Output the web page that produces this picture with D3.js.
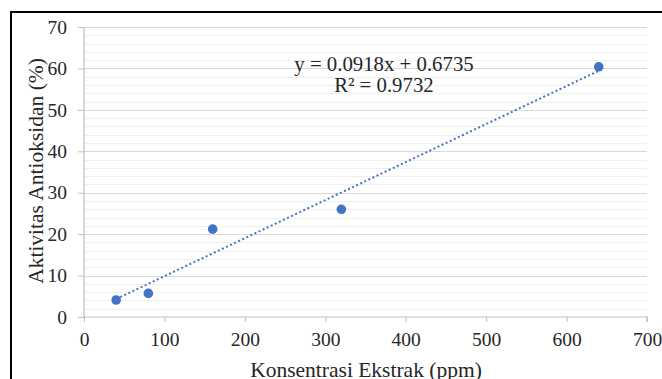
<!DOCTYPE html>
<html lang="en">
  <head>
    <meta charset="utf-8">
    <title>Aktivitas Antioksidan</title>
    <script src="https://d3js.org/d3.v7.min.js"></script>
    <style>
      body { margin: 0; background: #fff; }
      svg text { font-family: "Liberation Serif", "Times New Roman", Times, "DejaVu Serif", serif; fill: #262626; }
    </style>
  </head>
  <body>
    <div id="chart"></div>
    <script>
      // data
      var konsentrasi = [40, 80, 160, 320, 640];
      var aktivitas = [4.1, 5.7, 21.2, 26.0, 60.4];
      var xTicks = [0, 100, 200, 300, 400, 500, 600, 700];
      var yTicks = [0, 10, 20, 30, 40, 50, 60, 70];
      var slope = 0.0918, intercept = 0.6735;
      var eqText = "y = 0.0918x + 0.6735";
      var r2Text = "R² = 0.9732";

      var serif = '"Liberation Serif", "Times New Roman", Times, "DejaVu Serif", serif';

      var svg = d3.select('#chart')
        .append('svg')
        .attr('width', 662)
        .attr('height', 379)
        .attr('font-family', serif);

      // outer frame
      svg.append('rect')
        .attr('x', 11).attr('y', 12)
        .attr('width', 700).attr('height', 420)
        .attr('fill', 'none')
        .attr('stroke', '#000')
        .attr('stroke-width', 2);

      var xScale = d3.scaleLinear().domain([0, 700]).range([84, 647]);
      var yScale = d3.scaleLinear().domain([0, 70]).range([317, 27]);

      // minor gridlines every 2
      var minor = d3.range(0, 71, 2).filter(d => d % 10 !== 0);
      svg.append('g').selectAll('line')
        .data(minor).enter().append('line')
        .attr('x1', xScale(0)).attr('x2', xScale(700))
        .attr('y1', d => Math.round(yScale(d)) + 0.5)
        .attr('y2', d => Math.round(yScale(d)) + 0.5)
        .attr('stroke', '#efefef');

      // major gridlines
      svg.append('g').selectAll('line')
        .data(yTicks.slice(1)).enter().append('line')
        .attr('x1', xScale(0)).attr('x2', xScale(700))
        .attr('y1', d => Math.round(yScale(d)) + 0.5)
        .attr('y2', d => Math.round(yScale(d)) + 0.5)
        .attr('stroke', '#d9d9d9');

      // y axis
      var yAxis = d3.axisLeft(yScale).tickValues(yTicks).tickSize(6).tickPadding(11);
      var gy = svg.append('g')
        .attr('transform', 'translate(' + xScale(0) + ',0)')
        .call(yAxis);

      // x axis
      var xAxis = d3.axisBottom(xScale).tickValues(xTicks).tickSize(5).tickPadding(10);
      var gx = svg.append('g')
        .attr('transform', 'translate(0,' + yScale(0) + ')')
        .call(xAxis);

      [gx, gy].forEach(function (g) {
        g.attr('font-family', serif).attr('font-size', 19.5);
        g.select('.domain').attr('stroke', '#bfbfbf').attr('stroke-width', 1.2);
        g.selectAll('.tick line').attr('stroke', '#bfbfbf');
        g.selectAll('.tick text').attr('fill', '#262626');
      });
      gy.select('.domain').attr('d', 'M0,' + yScale(0) + 'V' + yScale(70));
      gx.select('.domain').attr('d', 'M' + xScale(0) + ',0H' + xScale(700) + 'V5');

      // trendline
      var xMin = d3.min(konsentrasi), xMax = d3.max(konsentrasi);
      svg.append('line')
        .attr('x1', xScale(xMin)).attr('y1', yScale(slope * xMin + intercept))
        .attr('x2', xScale(xMax)).attr('y2', yScale(slope * xMax + intercept))
        .attr('stroke', '#4472c4')
        .attr('stroke-width', 2)
        .attr('stroke-dasharray', '2,2.5');

      // points
      svg.selectAll('.dot')
        .data(konsentrasi).enter().append('circle')
        .attr('cx', d => xScale(d))
        .attr('cy', (d, i) => yScale(aktivitas[i]))
        .attr('r', 4.8)
        .attr('fill', '#4472c4');

      // equation
      svg.append('text')
        .attr('x', 384).attr('y', 71)
        .attr('text-anchor', 'middle')
        .attr('font-size', 20.8)
        .text(eqText);
      svg.append('text')
        .attr('x', 384).attr('y', 92)
        .attr('text-anchor', 'middle')
        .attr('font-size', 20.8)
        .text(r2Text);

      // axis titles
      svg.append('text')
        .attr('transform', 'translate(43,171)rotate(-90)')
        .attr('text-anchor', 'middle')
        .attr('font-size', 21.5)
        .text('Aktivitas Antioksidan (%)');
      svg.append('text')
        .attr('x', 366).attr('y', 377)
        .attr('text-anchor', 'middle')
        .attr('font-size', 21.5)
        .text('Konsentrasi Ekstrak (ppm)');
    </script>
  </body>
</html>
